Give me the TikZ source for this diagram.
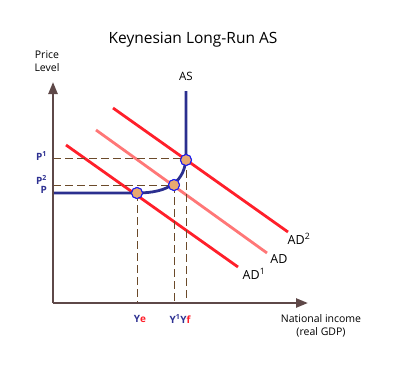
\documentclass[tikz,border=0pt]{standalone}
\usepackage{fontspec}
\setmainfont{Open Sans}
\usetikzlibrary{arrows.meta}
\definecolor{axisc}{HTML}{5E4848}
\definecolor{asc}{HTML}{2B2F8F}
\definecolor{lblc}{HTML}{2E3192}
\definecolor{adred}{HTML}{FF1F2A}
\definecolor{adpink}{HTML}{FF7777}
\definecolor{dashc}{HTML}{6B4A2A}
\definecolor{dotc}{HTML}{E8A870}
\definecolor{dotb}{HTML}{1A1AF0}
\tikzset{
  axisline/.style={draw=axisc,line width=2.4pt,-{Triangle[length=12pt,width=9pt]}},
  asline/.style={draw=asc,line width=2.8pt},
  adline/.style={line width=2.8pt},
  guide/.style={draw=dashc,line width=0.9pt,dash pattern=on 8pt off 4pt},
  eqdot/.style={circle,fill=dotc,draw=dotb,line width=1pt,minimum size=11pt,inner sep=0pt},
  plbl/.style={text=lblc,font=\bfseries\fontsize{10}{11}\selectfont,anchor=east,inner sep=0pt},
  ylbl/.style={font=\bfseries\fontsize{10}{11}\selectfont,inner sep=0pt},
  adlbl/.style={font=\fontsize{12.5}{14}\selectfont,inner sep=0pt},
  axlbl/.style={font=\fontsize{10.5}{13}\selectfont,align=center,inner sep=0pt}
}
\begin{document}
\begin{tikzpicture}[x=1pt,y=-1pt]
\useasboundingbox (0,0) rectangle (395,367);
% title
\node (title) at (193,40) {\fontsize{15.5}{18}\selectfont Keynesian Long-Run AS};
% axis labels
\node[axlbl] (ylab) at (47,61) {Price\\Level};
\node[axlbl] (xlab) at (321,326) {National income\\(real GDP)};
% axes
\coordinate (O) at (53,303);
\coordinate (ytop) at (53,82);
\coordinate (xend) at (308,303);
% AD curves
\coordinate (ad1a) at (66,145);
\coordinate (ad1b) at (238,267);
\coordinate (ada) at (96,130);
\coordinate (adb) at (267,253);
\coordinate (ad2a) at (113,108);
\coordinate (ad2b) at (288,232);
\draw[adline,adpink] (ada) -- (adb);
\draw[adline,adred] (ad1a) -- (ad1b);
\draw[adline,adred] (ad2a) -- (ad2b);
% guides
\coordinate (p1) at (53,158);
\coordinate (p2) at (53,185);
\coordinate (ye) at (137,303);
\coordinate (y1) at (174,303);
\coordinate (yf) at (186,303);
\node[eqdot] (e1) at (137,193) {};
\node[eqdot] (e2) at (174,185) {};
\node[eqdot] (e3) at (186,160) {};
\draw[guide] (p1) -- (186,158);
\draw[guide] (p2) -- (e2.center);
\draw[guide] (e1.center) -- (ye);
\draw[guide] (e2.center) -- (y1);
\draw[guide] (186,158) -- (yf);
% AS curve
\coordinate (asa) at (53,193);
\coordinate (asb) at (137,193);
\coordinate (asc) at (186,155);
\coordinate (astop) at (186,91);
\draw[asline] (asa) -- (asb) .. controls (168,193) and (186,182) .. (asc) -- (astop);
\node[eqdot] at (137,193) {};
\node[eqdot] at (174,185) {};
\node[eqdot] at (186,160) {};
\draw[axisline] (O) -- (ytop);
\draw[axisline] (O) -- (xend);
% labels
\node[font=\fontsize{11.5}{13}\selectfont] (aslbl) at (186,76) {AS};
\node[plbl] (lp1) at (47,156) {P\textsuperscript{1}};
\node[plbl] (lp2) at (47,180) {P\textsuperscript{2}};
\node[plbl] (lp) at (47,190) {P};
\node[ylbl] (lye) at (140,319) {\textcolor{lblc}{Y}\textcolor{adred}{e}};
\node[ylbl] (ly1) at (180,319) {\textcolor{lblc}{Y\textsuperscript{1}Y}\textcolor{adred}{f}};
\node[adlbl] (lad2) at (299,239) {AD\textsuperscript{2}};
\node[adlbl] (lad) at (279,259) {AD};
\node[adlbl] (lad1) at (254,274) {AD\textsuperscript{1}};
\end{tikzpicture}
\end{document}
